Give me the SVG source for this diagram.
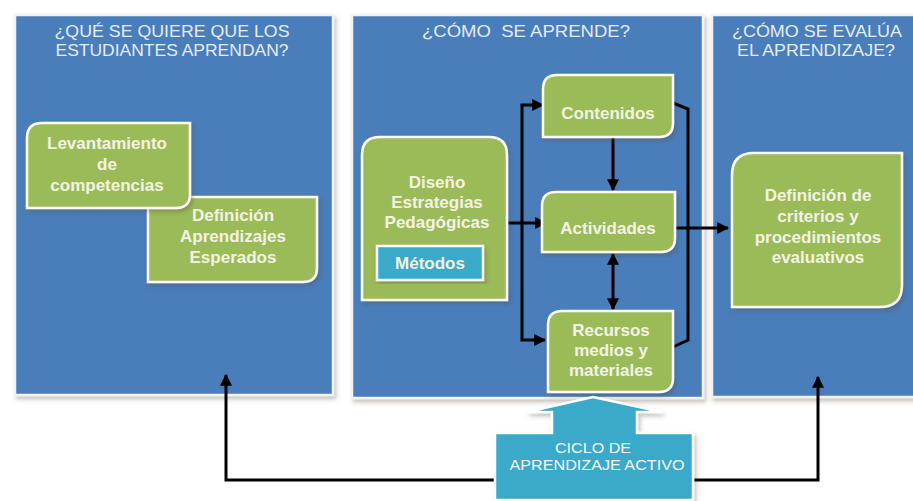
<svg xmlns="http://www.w3.org/2000/svg" width="913" height="501" viewBox="0 0 913 501">
<defs>
<filter id="sh" x="-10%" y="-10%" width="120%" height="120%">
<feDropShadow dx="2" dy="3" stdDeviation="2" flood-color="#5a4a3a" flood-opacity="0.35"/>
</filter>
<marker id="ah" viewBox="0 0 10 10" refX="9" refY="5" markerWidth="4" markerHeight="4" orient="auto-start-reverse" markerUnits="strokeWidth">
<path d="M0,0 L10,5 L0,10 z" fill="#000"/>
</marker>
<style>
.panel{fill:#4a7ebb;stroke:#f2f2f2;stroke-width:2.5}
.g{fill:#9bbb59;stroke:#ffffff;stroke-width:2.5}
.title{font-family:"Liberation Sans",Arial,sans-serif;font-size:16.5px;fill:#e4ecf6;text-anchor:middle}
.bt{font-family:"Liberation Sans",Arial,sans-serif;font-size:17px;font-weight:bold;fill:#f3f3e4;text-anchor:middle}
.ct{font-family:"Liberation Sans",Arial,sans-serif;font-size:15px;fill:#f4f8fb;text-anchor:middle}
.c{fill:none;stroke:#000;stroke-width:3}
</style>
</defs>
<rect width="913" height="501" fill="#ffffff"/>

<g id="panel1">
<rect class="panel" x="15" y="15" width="318" height="380" filter="url(#sh)"/>
<text class="title" x="172" y="37" textLength="235" lengthAdjust="spacingAndGlyphs">¿QUÉ SE QUIERE QUE LOS</text>
<text class="title" x="172" y="56" textLength="233" lengthAdjust="spacingAndGlyphs">ESTUDIANTES APRENDAN?</text>
</g>
<g id="panel2">
<rect class="panel" x="352" y="15" width="351" height="383" filter="url(#sh)"/>
<text class="title" x="526" y="37" xml:space="preserve" textLength="208" lengthAdjust="spacingAndGlyphs">¿CÓMO  SE APRENDE?</text>
</g>
<g id="panel3">
<rect class="panel" x="712" y="15" width="205" height="382" filter="url(#sh)"/>
<text class="title" x="817" y="37" textLength="170" lengthAdjust="spacingAndGlyphs">¿CÓMO SE EVALÚA</text>
<text class="title" x="816" y="56" textLength="158" lengthAdjust="spacingAndGlyphs">EL APRENDIZAJE?</text>
</g>

<g id="connectors">
<path class="c" d="M497,223 L546,223" marker-end="url(#ah)"/>
<path class="c" d="M543,105 L522,105 L522,340 L545,340" marker-start="url(#ah)" marker-end="url(#ah)"/>
<path class="c" d="M613,138 L613,190" marker-end="url(#ah)"/>
<path class="c" d="M613,254 L613,309" marker-start="url(#ah)" marker-end="url(#ah)"/>
<path class="c" d="M673,103 L688,109 L688,340 L673,347"/>
<path class="c" d="M673,228 L728,228" marker-end="url(#ah)"/>
<path class="c" d="M226,375 L226,480 L818,480 L818,377" marker-start="url(#ah)" marker-end="url(#ah)"/>
</g>

<g id="definicion-aprendizajes">
<path class="g" d="M148,197 H317 V268 Q317,282 303,282 H148 Z" filter="url(#sh)"/>
<text class="bt" x="233" y="221">Definición</text>
<text class="bt" x="233" y="242">Aprendizajes</text>
<text class="bt" x="233" y="263">Esperados</text>
</g>
<g id="levantamiento">
<path class="g" d="M42,123 H190 V194 Q190,208 176,208 H27 V138 Q27,123 42,123 Z" filter="url(#sh)"/>
<text class="bt" x="107" y="149">Levantamiento</text>
<text class="bt" x="107" y="170">de</text>
<text class="bt" x="107" y="191">competencias</text>
</g>

<g id="diseno">
<path class="g" d="M380,137 H489 Q507,137 507,155 V300 H362 V155 Q362,137 380,137 Z" filter="url(#sh)"/>
<text class="bt" x="437" y="188">Diseño</text>
<text class="bt" x="437" y="208">Estrategias</text>
<text class="bt" x="437" y="228">Pedagógicas</text>
</g>
<g id="metodos">
<rect x="377" y="246" width="106" height="34" fill="#3aa9c9" stroke="#ffffff" stroke-width="2.5" filter="url(#sh)"/>
<text class="bt" x="430" y="269">Métodos</text>
</g>

<g id="contenidos">
<path class="g" d="M557,75 H673 V123 Q673,137 659,137 H543 V89 Q543,75 557,75 Z" filter="url(#sh)"/>
<text class="bt" x="608" y="119">Contenidos</text>
</g>
<g id="actividades">
<path class="g" d="M556,192 H675 V238 Q675,252 661,252 H542 V206 Q542,192 556,192 Z" filter="url(#sh)"/>
<text class="bt" x="608" y="234">Actividades</text>
</g>
<g id="recursos">
<path class="g" d="M562,311 H673 V378 Q673,392 659,392 H548 V325 Q548,311 562,311 Z" filter="url(#sh)"/>
<text class="bt" x="611" y="336">Recursos</text>
<text class="bt" x="611" y="356">medios y</text>
<text class="bt" x="611" y="376">materiales</text>
</g>

<g id="criterios">
<path class="g" d="M754,153 H902 V285 Q902,307 880,307 H732 V175 Q732,153 754,153 Z" filter="url(#sh)"/>
<text class="bt" x="818" y="201">Definición de</text>
<text class="bt" x="818" y="222">criterios y</text>
<text class="bt" x="818" y="243">procedimientos</text>
<text class="bt" x="818" y="263">evaluativos</text>
</g>

<g id="ciclo">
<path d="M495,433 H552 V412 H527 L593,397 L662,412 H637 V433 H693 V500 H495 Z" fill="#3aa9c9" stroke="#ffffff" stroke-width="2.5" filter="url(#sh)"/>
<text class="ct" x="593" y="453" textLength="76" lengthAdjust="spacingAndGlyphs">CICLO DE</text>
<text class="ct" x="597" y="470" textLength="175" lengthAdjust="spacingAndGlyphs">APRENDIZAJE ACTIVO</text>
</g>
</svg>
